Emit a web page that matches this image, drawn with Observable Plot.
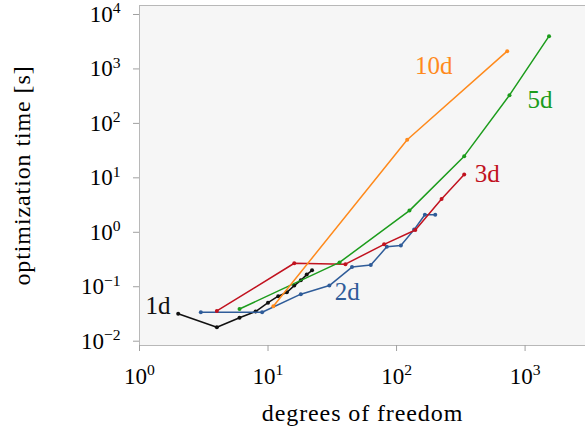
<!DOCTYPE html>
<html>
<head>
<meta charset="utf-8">
<script src="https://cdn.jsdelivr.net/npm/d3@7"></script>
<script src="https://cdn.jsdelivr.net/npm/@observablehq/plot@0.6"></script>
<style>
  body { margin: 0; background: #fff; }
  #chart svg text { font-family: "Liberation Serif", serif; }
  #chart svg g[aria-label$="-axis label"] text { font-size: 24px; letter-spacing: 0.9px; }
</style>
</head>
<body>
<div id="chart"></div>
<script>
// Optimization time versus degrees of freedom, one series per dimension.
const seriesNames = ["1d", "2d", "3d", "5d", "10d"];
const seriesColors = ["#111111", "#2f5c99", "#c1121f", "#1c9c1c", "#ff8a1c"];

const dof1d = [2, 4, 6, 8, 10, 12, 14, 16, 18, 20, 22];
const time1d = [0.032, 0.018, 0.027, 0.035, 0.051, 0.067, 0.079, 0.105, 0.131, 0.167, 0.2];

const dof2d = [3, 9, 18, 30, 45, 63, 84, 108, 137, 166, 200];
const time2d = [0.034, 0.034, 0.073, 0.105, 0.23, 0.25, 0.54, 0.57, 1.12, 2.1, 2.1];

const dof3d = [4, 16, 40, 80, 140, 224, 336];
const time3d = [0.036, 0.27, 0.26, 0.6, 1.1, 4.1, 11.5];

const dof5d = [6, 36, 126, 336, 756, 1536];
const time5d = [0.039, 0.28, 2.5, 25, 330, 4000];

const dof10d = [11, 121, 726];
const time10d = [0.044, 50, 2120];

// Where each series name is written (data coordinates) and how it is anchored.
const labelDof = [1.74, 33, 406, 1045, 139];
const labelTime = [0.044, 0.079, 11.6, 269, 1119];
const labelAnchors = ["end", "start", "start", "start", "start"];

// Decade exponents shown on the axes.
const xTickExponents = [0, 1, 2, 3];
const yTickExponents = [-2, -1, 0, 1, 2, 3, 4];

const dofs = [dof1d, dof2d, dof3d, dof5d, dof10d];
const times = [time1d, time2d, time3d, time5d, time10d];

const seriesMarks = seriesNames.flatMap((name, i) => {
  const rows = dofs[i].map((x, j) => ({x, y: times[i][j]}));
  return [
    Plot.line(rows, {x: "x", y: "y", stroke: seriesColors[i], strokeWidth: 1.5}),
    Plot.dot(rows, {x: "x", y: "y", fill: seriesColors[i], r: 2})
  ];
});

const labelMarks = seriesNames.map((name, i) =>
  Plot.text([{x: labelDof[i], y: labelTime[i], name}], {
    x: "x", y: "y", text: "name",
    fill: seriesColors[i], fontSize: 25, textAnchor: labelAnchors[i]
  })
);

const powerLabel = d => {
  const e = Math.round(Math.log10(d));
  return "10^" + (e < 0 ? "\u2212" + (-e) : String(e));
};

const chart = Plot.plot({
  width: 585,
  height: 430,
  marginLeft: 139,
  marginRight: 0,
  marginTop: 5,
  marginBottom: 85,
  style: {fontFamily: "Liberation Serif", fontSize: "23px", background: "#fff", color: "#000"},
  x: {type: "log", domain: [1, 10 ** 3.47]},
  y: {type: "log", domain: [10 ** -2.079, 10 ** 4.165]},
  marks: [
    Plot.frame({fill: "#f6f6f6", stroke: "#b8b8b8"}),
    Plot.axisX({
      ticks: xTickExponents.map(e => 10 ** e), tickFormat: powerLabel,
      tickSize: 6, tickPadding: 16,
      label: "degrees of freedom", labelAnchor: "center", labelArrow: false, labelOffset: 75
    }),
    Plot.axisY({
      ticks: yTickExponents.map(e => 10 ** e), tickFormat: powerLabel,
      tickSize: 6, tickPadding: 13,
      label: "optimization time [s]", labelAnchor: "center", labelArrow: false, labelOffset: 127
    }),
    ...seriesMarks,
    ...labelMarks
  ]
});

// Light grey tick marks, as on the frame.
chart.querySelectorAll('g[aria-label$="-axis tick"]').forEach(g => g.setAttribute("stroke", "#a0a0a0"));

// Turn "10^k" tick labels into a base with a raised exponent.
chart.querySelectorAll('g[aria-label$="tick label"] text').forEach(t => {
  const parts = t.textContent.split("^");
  if (parts.length !== 2) return;
  t.textContent = parts[0];
  const sup = document.createElementNS("http://www.w3.org/2000/svg", "tspan");
  sup.setAttribute("dy", "-0.55em");
  sup.setAttribute("font-size", "0.68em");
  sup.textContent = parts[1];
  t.appendChild(sup);
});

document.getElementById("chart").appendChild(chart);
</script>
</body>
</html>
